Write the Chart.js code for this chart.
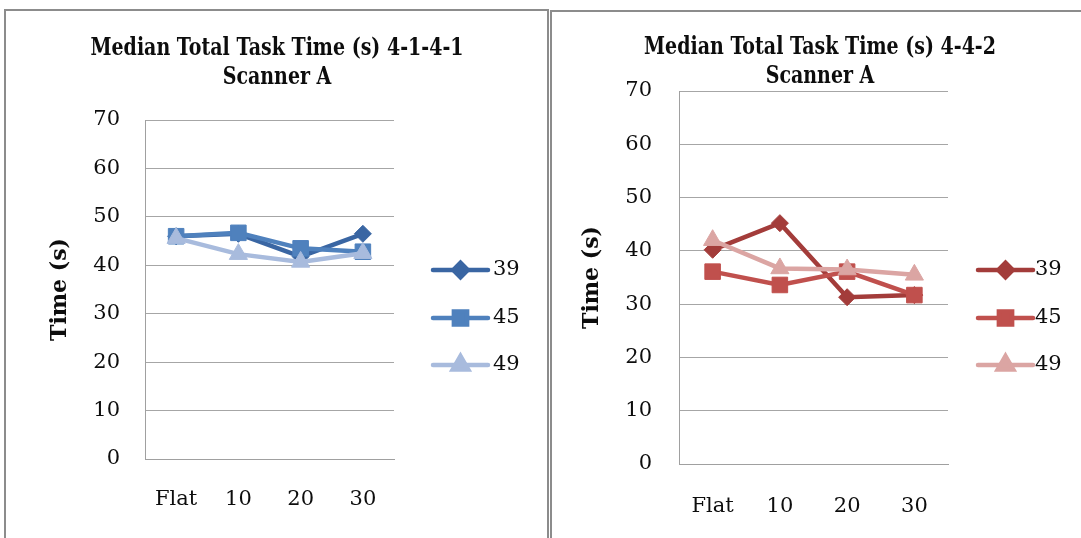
<!DOCTYPE html>
<html><head><meta charset="utf-8">
<script src="https://cdn.jsdelivr.net/npm/chart.js@4.4.1/dist/chart.umd.min.js"></script>
<style>
html,body{margin:0;padding:0;background:#fff;width:1081px;height:538px;overflow:hidden;}
.panel{position:absolute;border:2px solid #8c8c8c;background:#fff;box-sizing:border-box;}
#p1{left:4px;top:9px;width:545px;height:540px;}
#p2{left:550px;top:10px;width:540px;height:540px;}
canvas{position:absolute;}
</style></head><body>
<div class="panel" id="p1"></div>
<div class="panel" id="p2"></div>
<canvas id="c1" width="540" height="527" style="left:6px;top:11px;width:540px;height:527px"></canvas>
<canvas id="c2" width="529" height="526" style="left:552px;top:12px;width:529px;height:526px"></canvas>
<script>
// ---- data ----
const categories = ['Flat', '10', '20', '30'];
const seriesNames = ['39', '45', '49'];
const leftTitle = ['Median Total Task Time (s) 4-1-4-1', 'Scanner A'];
const rightTitle = ['Median Total Task Time (s) 4-4-2', 'Scanner A'];
const yAxisTitle = 'Time (s)';
const yMin = 0, yMax = 70, yStep = 10;
const left39 = [46.0, 46.5, 41.8, 46.5];
const left45 = [46.0, 46.7, 43.5, 42.8];
const left49 = [45.6, 42.3, 40.7, 42.5];
const right39 = [40.2, 45.2, 31.3, 31.7];
const right45 = [36.1, 33.6, 36.1, 31.7];
const right49 = [42.0, 36.7, 36.5, 35.5];

// ---- styles ----
const leftColors = ['#3a66a3', '#4f81bd', '#a8bbdd'];
const rightColors = ['#a33c3a', '#c0504d', '#dba5a3'];
const styles = ['rectRot', 'rect', 'triangle'];
const radii = [8.5, 11, 10.5];
const serif = '"DejaVu Serif", "Liberation Serif", serif';
const textColor = '#0d0d0d';

const panelTitle = {
  id: 'panelTitle',
  afterDraw(chart, args, o) {
    const ctx = chart.ctx;
    ctx.save();
    ctx.fillStyle = textColor;
    ctx.font = 'bold ' + o.size + 'px "DejaVu Serif", serif';
    ctx.textAlign = 'center';
    ctx.textBaseline = 'middle';
    o.lines.forEach((t, i) => {
      ctx.save();
      ctx.translate(o.x, o.ys[i]);
      ctx.scale(1, 1.25);
      ctx.fillText(t, 0, 0);
      ctx.restore();
    });
    ctx.restore();
  }
};
const sideLegend = {
  id: 'sideLegend',
  afterDraw(chart, args, o) {
    const ctx = chart.ctx;
    chart.data.datasets.forEach((ds, i) => {
      const y = o.ys[i];
      ctx.save();
      ctx.strokeStyle = ds.borderColor;
      ctx.lineWidth = ds.borderWidth;
      ctx.lineCap = 'round';
      ctx.beginPath(); ctx.moveTo(o.x0, y); ctx.lineTo(o.x1, y); ctx.stroke();
      ctx.fillStyle = ds.pointBackgroundColor;
      ctx.strokeStyle = ds.pointBorderColor;
      Chart.helpers.drawPoint(ctx, {pointStyle: ds.pointStyle, rotation: 0, borderWidth: 1, radius: ds.pointRadius * 0.85}, (o.x0 + o.x1) / 2, y);
      ctx.fillStyle = textColor;
      ctx.font = '21px ' + serif;
      ctx.textAlign = 'left';
      ctx.textBaseline = 'middle';
      ctx.fillText(ds.label, o.tx, y);
      ctx.restore();
    });
  }
};

function makeDatasets(values, colors) {
  return values.map((v, i) => ({
    label: seriesNames[i],
    data: v,
    borderColor: colors[i],
    backgroundColor: colors[i],
    pointBackgroundColor: colors[i],
    pointBorderColor: colors[i],
    borderWidth: 4.5,
    pointStyle: styles[i],
    pointRadius: radii[i],
    pointBorderWidth: 1,
    tension: 0,
    order: 2 - i
  }));
}

function makeChart(id, values, colors, L) {
  return new Chart(document.getElementById(id), {
    type: 'line',
    data: {labels: categories, datasets: makeDatasets(values, colors)},
    plugins: [panelTitle, sideLegend],
    options: {
      responsive: false,
      animation: false,
      events: [],
      layout: {padding: {left: L.pl, top: L.pt, right: L.pr, bottom: L.pb}},
      plugins: {
        legend: {display: false},
        title: {display: false},
        tooltip: {enabled: false},
        panelTitle: {lines: L.title, x: L.tx, ys: L.tys, size: 19},
        sideLegend: {x0: L.lx0, x1: L.lx1, tx: L.ltx, ys: L.lys}
      },
      scales: {
        x: {
          offset: true,
          grid: {display: false, drawTicks: false},
          border: {display: true, color: '#a0a0a0', width: 1},
          ticks: {font: {family: serif, size: 21}, color: textColor, padding: L.xpad, maxRotation: 0},
          afterFit: s => { s.height = 60; }
        },
        y: {
          min: yMin, max: yMax,
          ticks: {stepSize: yStep, font: {family: serif, size: 21}, color: textColor, padding: L.ypad},
          grid: {color: '#a6a6a6', lineWidth: 1, drawTicks: false},
          border: {display: true, color: '#a0a0a0', width: 1},
          title: {display: true, text: yAxisTitle, font: {family: serif, size: 22, weight: 'bold'}, color: textColor, padding: 0},
          afterFit: s => { s.width = L.yw; }
        }
      }
    }
  });
}

makeChart('c1', [left39, left45, left49], leftColors, {
  pl: 41, pt: 109, pr: 152, pb: 19, yw: 98, xpad: 28, ypad: 25,
  title: leftTitle, tx: 271, tys: [38, 67],
  lx0: 427, lx1: 482, ltx: 487, lys: [259, 307, 354]
});
makeChart('c2', [right39, right45, right49], rightColors, {
  pl: 27, pt: 79, pr: 133, pb: 14, yw: 100, xpad: 30, ypad: 27,
  title: rightTitle, tx: 268, tys: [36, 65],
  lx0: 426, lx1: 481, ltx: 483, lys: [258, 306, 353]
});
</script>
</body></html>
